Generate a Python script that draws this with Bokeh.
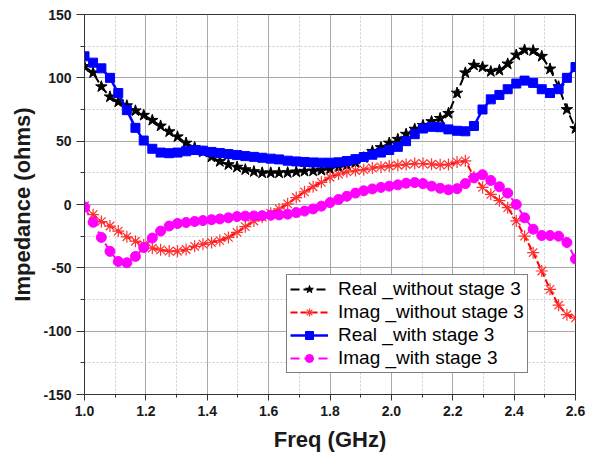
from bokeh.plotting import figure
from bokeh.models import (Range1d, FixedTicker, PrintfTickFormatter, Legend, LegendItem)
from bokeh.embed import file_html
from bokeh.resources import INLINE

# ---------------- data ----------------
freq = [1.000, 1.028, 1.055, 1.083, 1.110, 1.138, 1.166, 1.193, 1.221, 1.248,
        1.276, 1.303, 1.331, 1.359, 1.386, 1.414, 1.441, 1.469, 1.497, 1.524,
        1.552, 1.579, 1.607, 1.634, 1.662, 1.690, 1.717, 1.745, 1.772, 1.800,
        1.828, 1.855, 1.883, 1.910, 1.938, 1.966, 1.993, 2.021, 2.048, 2.076,
        2.103, 2.131, 2.159, 2.186, 2.214, 2.241, 2.269, 2.297, 2.324, 2.352,
        2.379, 2.407, 2.434, 2.462, 2.490, 2.517, 2.545, 2.572, 2.600]

real_without = [109, 104, 93, 85, 81, 78, 74, 70.5, 66.5, 62,
                57.5, 53.5, 48.5, 45, 41.5, 37.5, 34, 31.5, 29.5, 27.5,
                26, 25, 25, 25, 25.2, 25.8, 26.3, 26.5, 27, 28,
                29.5, 31, 33, 37, 42, 45, 48.5, 51.5, 55.5, 59.5,
                62.5, 65.5, 68, 72, 88, 104, 110, 108.5, 105, 106,
                111, 118, 122, 121.5, 117, 107, 93, 75, 60]

imag_without = [-1, -8, -13.5, -17, -21, -25.5, -29, -31.8, -34.5, -35.8,
                -36.8, -36.9, -35.5, -33, -31.3, -30, -28.5, -26, -22, -17.5,
                -13, -10, -7, -3.5, 0.5, 5.5, 10, 14, 17.5, 21.5,
                24, 25.8, 26.8, 27.5, 28.8, 29.7, 30.4, 31, 31.6, 32.3,
                32.3, 31.8, 31.3, 31.5, 33.5, 34.5, 22, 13.5, 8, 3,
                -2.5, -13, -25, -38, -52.5, -67, -79.5, -87, -89.5]

real_with = [117, 112, 107.5, 100, 88, 74.5, 60.5, 50.5, 44, 41,
             40.5, 41, 42, 43, 42.5, 41.5, 40.7, 39.8, 39, 38.2,
             37.6, 36.9, 36.2, 35.6, 34.6, 34, 33.6, 33.2, 33, 33,
             33.3, 34.3, 35.8, 37.5, 39.3, 41, 43, 45.5, 50, 55.5,
             60, 61.3, 61, 59.3, 58.2, 57.8, 62, 75, 83, 86.5,
             91, 95.5, 97.8, 96, 91, 88, 91, 100, 108.5]

imag_with = [-2, -14, -26, -37, -45, -46, -41, -34, -26.5, -21,
             -17, -15, -14.2, -13.4, -12.7, -12, -11.4, -10.5, -9.5, -9.2,
             -9, -8.8, -8.5, -8.2, -7.6, -6.4, -5.2, -3.5, -1.3, 1.5,
             4, 6.5, 9, 10.8, 12.3, 13.5, 14.5, 15.5, 16.8, 17.3,
             16.5, 14.5, 12.8, 11.6, 12.5, 16.5, 21, 23.5, 19, 14,
             9, 0, -10.5, -19.5, -24.5, -24.5, -25, -30, -43]

labels = ["Real _without stage 3", "Imag _without stage 3",
          "Real _with stage 3", "Imag _with stage 3"]

x_ticks = [1.0, 1.2, 1.4, 1.6, 1.8, 2.0, 2.2, 2.4, 2.6]
x_minor = [1.1, 1.3, 1.5, 1.7, 1.9, 2.1, 2.3, 2.5]
y_ticks = [-150, -100, -50, 0, 50, 100, 150]
y_minor = [-125, -75, -25, 25, 75, 125]

FONT = "Liberation Sans"

# ---------------- figure ----------------
p = figure(width=595, height=461, output_backend="svg", toolbar_location=None,
           x_range=Range1d(1.0, 2.6), y_range=Range1d(-150, 150),
           min_border_left=84, min_border_right=20, min_border_top=14,
           min_border_bottom=67)
p.background_fill_color = "white"
p.border_fill_color = "white"
p.outline_line_color = "#333333"
p.outline_line_width = 1

for ax in (p.xaxis[0], p.yaxis[0]):
    ax.major_label_text_font = FONT
    ax.major_label_text_font_style = "bold"
    ax.major_label_text_font_size = "14px"
    ax.major_label_text_color = "#1a1a1a"
    ax.axis_label_text_font = FONT
    ax.axis_label_text_font_style = "bold"
    ax.axis_label_text_font_size = "22px"
    ax.axis_label_text_color = "#1a1a1a"
    ax.axis_line_color = "#333333"
    ax.major_tick_line_color = "#333333"
    ax.minor_tick_line_color = "#333333"
    ax.major_tick_in = 0
    ax.minor_tick_in = 0

p.xaxis[0].ticker = FixedTicker(ticks=x_ticks, minor_ticks=x_minor)
p.yaxis[0].ticker = FixedTicker(ticks=y_ticks, minor_ticks=y_minor)
p.xaxis[0].formatter = PrintfTickFormatter(format="%.1f")
p.yaxis[0].formatter = PrintfTickFormatter(format="%d")
p.xaxis[0].axis_label = "Freq (GHz)"
p.yaxis[0].axis_label = "Impedance (ohms)"
p.xaxis[0].major_tick_out = 6
p.xaxis[0].minor_tick_out = 3
p.yaxis[0].major_tick_out = 8
p.yaxis[0].minor_tick_out = 4
p.xaxis[0].major_label_standoff = 5
p.yaxis[0].major_label_standoff = 5
p.xaxis[0].axis_label_standoff = 8
p.yaxis[0].axis_label_standoff = 5

for g in (p.xgrid[0], p.ygrid[0]):
    g.grid_line_color = "#a8a8a8"
    g.grid_line_width = 1
    g.minor_grid_line_color = "#cccccc"
    g.minor_grid_line_dash = "2 2"
    g.minor_grid_line_width = 1
p.xgrid[0].ticker = p.xaxis[0].ticker
p.ygrid[0].ticker = p.yaxis[0].ticker

# ---------------- series ----------------
l1 = p.line(freq, real_without, line_color="black", line_width=2, line_dash="9 4")
s1 = p.scatter(freq, real_without, marker="star", size=12, fill_color="black",
               line_color="black")
l2 = p.line(freq, imag_without, line_color="red", line_width=2, line_dash="7 3")
s2 = p.scatter(freq, imag_without, marker="asterisk", size=12, line_color="#ff3030",
               line_width=1.2)
l3 = p.line(freq, real_with, line_color="blue", line_width=2.5)
s3 = p.scatter(freq, real_with, marker="square", size=9, fill_color="blue",
               line_color="blue")
l4 = p.line(freq, imag_with, line_color="magenta", line_width=2, line_dash="9 5")
s4 = p.scatter(freq, imag_with, marker="circle", size=10, fill_color="magenta",
               line_color="magenta")

legend = Legend(items=[LegendItem(label=labels[0], renderers=[l1, s1]),
                       LegendItem(label=labels[1], renderers=[l2, s2]),
                       LegendItem(label=labels[2], renderers=[l3, s3]),
                       LegendItem(label=labels[3], renderers=[l4, s4])],
                location=(202, 21))
legend.label_text_font = FONT
legend.label_text_font_size = "19px"
legend.label_text_color = "black"
legend.glyph_width = 38
legend.glyph_height = 20
legend.label_height = 20
legend.spacing = 1
legend.padding = 3
legend.margin = 0
legend.label_standoff = 10
legend.border_line_color = "black"
legend.border_line_width = 1
legend.background_fill_alpha = 1
p.add_layout(legend)

open("out.html", "w").write(file_html(p, INLINE))
